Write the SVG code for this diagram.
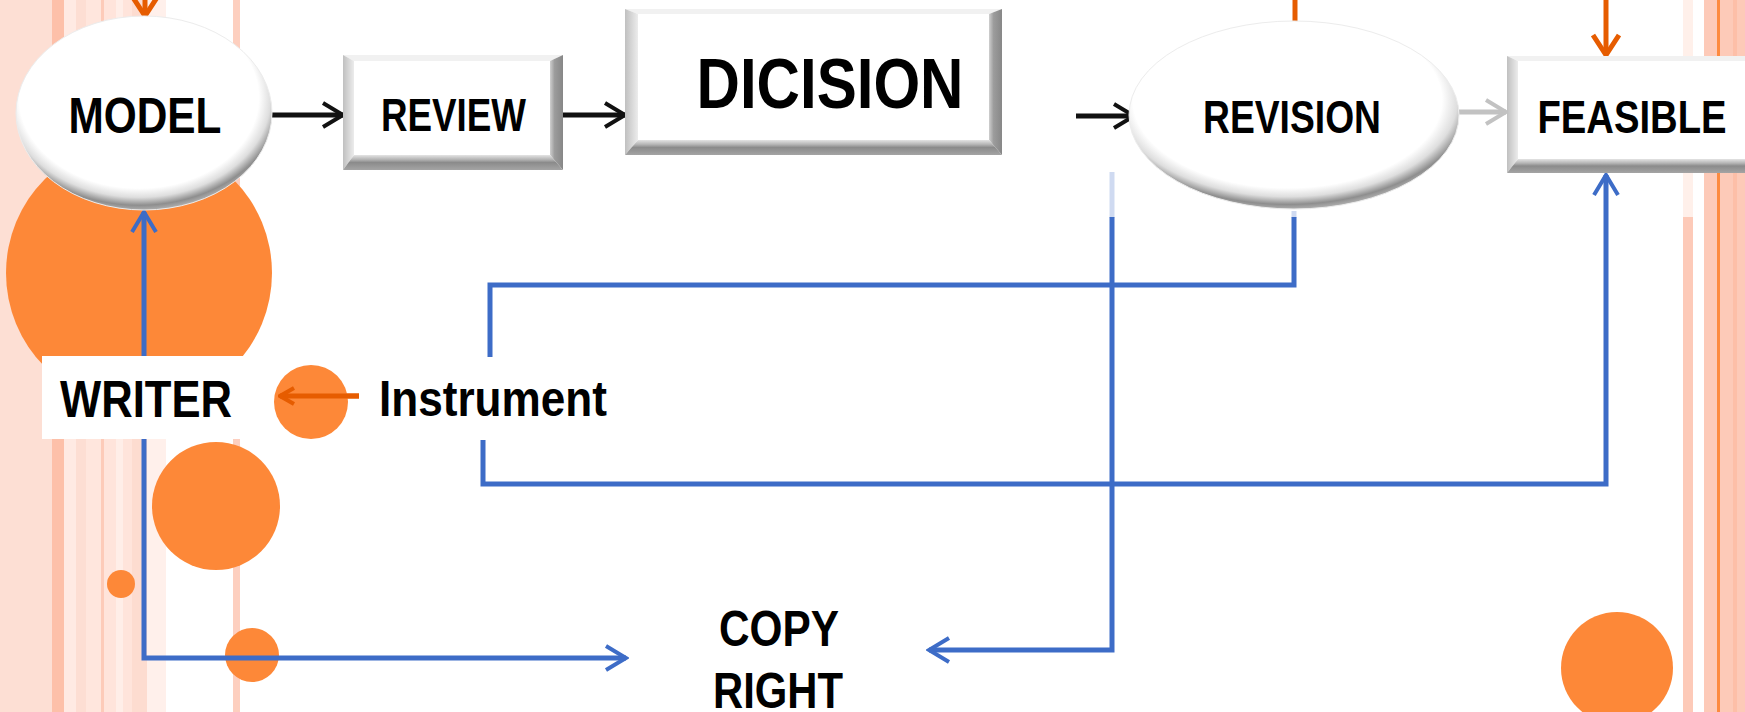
<svg xmlns="http://www.w3.org/2000/svg" width="1745" height="712" viewBox="0 0 1745 712">
<defs>
<style>
text{font-family:"Liberation Sans",Arial,sans-serif;font-weight:bold;fill:#000;text-anchor:middle}
.orb{fill:#fd8838}
.blue{fill:none;stroke:#3d6cc7;stroke-width:5}
.blueFade{fill:none;stroke:#cfdaf1;stroke-width:5}
.blk{fill:none;stroke:#111;stroke-width:5}
.org{fill:none;stroke:#e65c00;stroke-width:5}
.gry{fill:none;stroke:#c2c2c2;stroke-width:5}
.bvTop{fill:#f1f1f1}
.bvLeft{fill:url(#gLeft)}
.bvRight{fill:url(#gRight)}
.bvBot{fill:url(#gBot)}
.face{fill:#fff}
.oval{fill:url(#gRim);stroke:#ececec;stroke-width:1}
</style>
<linearGradient id="gLeft" x1="0" y1="0" x2="1" y2="0"><stop offset="0" stop-color="#c0c0c0"/><stop offset="1" stop-color="#ececec"/></linearGradient>
<linearGradient id="gRight" x1="0" y1="0" x2="1" y2="0"><stop offset="0" stop-color="#cfcfcf"/><stop offset="0.35" stop-color="#9c9c9c"/><stop offset="1" stop-color="#878787"/></linearGradient>
<linearGradient id="gBot" x1="0" y1="0" x2="0" y2="1"><stop offset="0" stop-color="#e4e4e4"/><stop offset="0.3" stop-color="#b4b4b4"/><stop offset="0.5" stop-color="#8b8b8b"/><stop offset="1" stop-color="#a4a4a4"/></linearGradient>
<radialGradient id="gRim" cx="0.48" cy="0.42" r="0.585"><stop offset="0.8" stop-color="#ffffff"/><stop offset="0.88" stop-color="#dedede"/><stop offset="0.95" stop-color="#8e8e8e"/><stop offset="1" stop-color="#b4b4b4"/></radialGradient>
<marker id="ahK" viewBox="0 0 26 28" refX="23" refY="14" markerWidth="26" markerHeight="28" orient="auto" markerUnits="userSpaceOnUse"><path d="M3,2 L23,14 L3,26" fill="none" stroke="#111" stroke-width="4"/></marker>
<marker id="ahB" viewBox="0 0 26 28" refX="23" refY="14" markerWidth="26" markerHeight="28" orient="auto" markerUnits="userSpaceOnUse"><path d="M3,2 L23,14 L3,26" fill="none" stroke="#3d6cc7" stroke-width="4"/></marker>
<marker id="ahO" viewBox="0 0 26 30" refX="23" refY="15" markerWidth="26" markerHeight="30" orient="auto" markerUnits="userSpaceOnUse"><path d="M3,2 L23,15 L3,28" fill="none" stroke="#e65c00" stroke-width="5"/></marker>
<marker id="ahG" viewBox="0 0 26 28" refX="23" refY="14" markerWidth="26" markerHeight="28" orient="auto" markerUnits="userSpaceOnUse"><path d="M3,2 L23,14 L3,26" fill="none" stroke="#c2c2c2" stroke-width="4"/></marker>
<marker id="ahOs" viewBox="0 0 18 20" refX="16" refY="10" markerWidth="18" markerHeight="20" orient="auto" markerUnits="userSpaceOnUse"><path d="M2,2 L16,10 L2,18" fill="none" stroke="#e65c00" stroke-width="4"/></marker>
</defs>

<rect x="0" y="0" width="1745" height="712" fill="#ffffff"/>

<g id="background">
<rect x="0" y="0" width="52" height="712" fill="#fddfd4"/>
<rect x="52" y="0" width="12" height="712" fill="#fdc0a9"/>
<rect x="64" y="0" width="12" height="712" fill="#ffeae3"/>
<rect x="76" y="0" width="10" height="712" fill="#fdded3"/>
<rect x="86" y="0" width="15" height="712" fill="#ffe6dd"/>
<rect x="101" y="0" width="3" height="712" fill="#fdcbb9"/>
<rect x="104" y="0" width="12" height="712" fill="#ffe4db"/>
<rect x="116" y="0" width="7" height="712" fill="#ffeee8"/>
<rect x="123" y="0" width="9" height="712" fill="#ffe4db"/>
<rect x="132" y="0" width="15" height="712" fill="#fddcd0"/>
<rect x="147" y="0" width="19" height="712" fill="#fff0eb"/>
<rect x="233" y="0" width="7" height="712" fill="#fdcfbf"/>
<rect x="1683" y="0" width="10" height="217" fill="#fff0ea"/>
<rect x="1683" y="217" width="10" height="495" fill="#fdcab8"/>
<rect x="1704" y="0" width="41" height="712" fill="#fdcab8"/>
<rect x="1717" y="0" width="3" height="712" fill="#fd8a3f"/>
<rect x="1733" y="0" width="4" height="712" fill="#fdbfa8"/>
<circle class="orb" cx="139" cy="273" r="133"/>
<circle class="orb" cx="216" cy="506" r="64"/>
<circle class="orb" cx="121" cy="584" r="14"/>
<circle class="orb" cx="252" cy="655" r="27"/>
<circle class="orb" cx="1617" cy="668" r="56"/>
</g>

<g id="connectors">
<line class="blk" x1="272" y1="115" x2="343" y2="115" marker-end="url(#ahK)"/>
<line class="blk" x1="563" y1="115" x2="625" y2="115" marker-end="url(#ahK)"/>
<line class="blk" x1="1076" y1="116" x2="1134" y2="116" marker-end="url(#ahK)"/>
<line class="gry" x1="1459" y1="112" x2="1506" y2="112" marker-end="url(#ahG)"/>
<line class="org" x1="145" y1="-30" x2="145" y2="16" marker-end="url(#ahO)"/>
<line class="org" x1="1295" y1="0" x2="1295" y2="24"/>
<line class="org" x1="1606" y1="0" x2="1606" y2="55" marker-end="url(#ahO)"/>
<line class="org" x1="359" y1="396" x2="280" y2="396" marker-end="url(#ahOs)"/>
<line class="blue" x1="144" y1="356" x2="144" y2="212" marker-end="url(#ahB)"/>
<polyline class="blue" points="144,439 144,658 626,658" marker-end="url(#ahB)"/>
<line class="blueFade" x1="1294" y1="211" x2="1294" y2="218"/>
<polyline class="blue" points="1294,217 1294,285 490,285 490,357"/>
<line class="blueFade" x1="1112" y1="172" x2="1112" y2="218"/>
<polyline class="blue" points="1112,217 1112,650 929,650" marker-end="url(#ahB)"/>
<polyline class="blue" points="483,440 483,484 1606,484 1606,175" marker-end="url(#ahB)"/>
</g>

<g id="node-model">
<ellipse class="oval" cx="144" cy="113" rx="128" ry="97"/>
<text x="145" y="133" font-size="50" textLength="153" lengthAdjust="spacingAndGlyphs">MODEL</text>
</g>

<g id="node-review">
<polygon class="bvTop" points="343,55 563,55 550,61 354,61"/>
<polygon class="bvLeft" points="343,55 354,61 354,155 343,170"/>
<polygon class="bvRight" points="563,55 563,170 550,155 550,61"/>
<polygon class="bvBot" points="343,170 563,170 550,155 354,155"/>
<rect class="face" x="354" y="61" width="196" height="94"/>
<text x="453.5" y="131" font-size="47" textLength="145" lengthAdjust="spacingAndGlyphs">REVIEW</text>
</g>

<g id="node-dicision">
<polygon class="bvTop" points="625,9 1002,9 989,14 638,14"/>
<polygon class="bvLeft" points="625,9 638,14 638,140 625,155"/>
<polygon class="bvRight" points="1002,9 1002,155 989,140 989,14"/>
<polygon class="bvBot" points="625,155 1002,155 989,140 638,140"/>
<rect class="face" x="638" y="14" width="351" height="126"/>
<text x="830" y="108" font-size="70" textLength="267" lengthAdjust="spacingAndGlyphs">DICISION</text>
</g>

<g id="node-revision">
<ellipse class="oval" cx="1294" cy="115" rx="165" ry="94"/>
<text x="1292" y="133" font-size="46" textLength="178" lengthAdjust="spacingAndGlyphs">REVISION</text>
</g>

<g id="node-feasible">
<polygon class="bvTop" points="1507,56 1760,56 1747,61 1518,61"/>
<polygon class="bvLeft" points="1507,56 1518,61 1518,159 1507,173"/>
<polygon class="bvBot" points="1507,173 1760,173 1747,159 1518,159"/>
<rect class="face" x="1518" y="61" width="229" height="98"/>
<text x="1632" y="133" font-size="46" textLength="189" lengthAdjust="spacingAndGlyphs">FEASIBLE</text>
</g>

<g id="node-writer">
<rect x="42" y="356" width="226" height="83" fill="#ffffff"/>
<text x="146" y="417" font-size="52" textLength="172" lengthAdjust="spacingAndGlyphs">WRITER</text>
</g>

<g id="node-instrument">
<circle class="orb" cx="311" cy="402" r="37"/>
<line class="org" x1="359" y1="396" x2="280" y2="396" marker-end="url(#ahOs)"/>
<text x="493" y="416" font-size="50" textLength="228" lengthAdjust="spacingAndGlyphs">Instrument</text>
</g>

<g id="node-copyright">
<text x="779" y="646" font-size="50" textLength="120" lengthAdjust="spacingAndGlyphs">COPY</text>
<text x="778" y="708" font-size="50" textLength="130" lengthAdjust="spacingAndGlyphs">RIGHT</text>
</g>
</svg>
